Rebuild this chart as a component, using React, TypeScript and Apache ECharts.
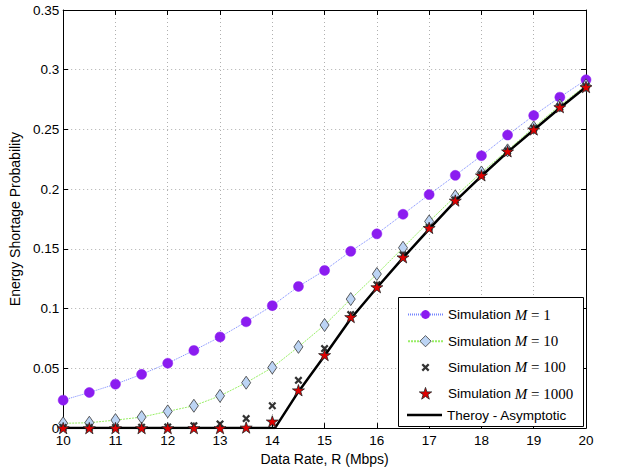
import React, { useEffect, useRef } from "react";
import * as echarts from "echarts";

const rates = [10, 10.5, 11, 11.5, 12, 12.5, 13, 13.5, 14, 14.5, 15, 15.5, 16, 16.5, 17, 17.5, 18, 18.5, 19, 19.5, 20];
const simM1 = [0.0234, 0.0298, 0.0368, 0.045, 0.0543, 0.065, 0.0763, 0.089, 0.1025, 0.1186, 0.132, 0.148, 0.1626, 0.179, 0.1955, 0.2116, 0.228, 0.2453, 0.2617, 0.277, 0.2916];
const simM10 = [0.004, 0.0045, 0.0067, 0.0092, 0.014, 0.0187, 0.027, 0.038, 0.0507, 0.068, 0.0863, 0.108, 0.129, 0.151, 0.173, 0.194, 0.214, 0.2325, 0.2517, 0.27, 0.287];
const simM100 = [0.0005, 0.0005, 0.0005, 0.0007, 0.001, 0.002, 0.0035, 0.008, 0.0187, 0.04, 0.0666, 0.095, 0.12, 0.145, 0.168, 0.191, 0.212, 0.232, 0.251, 0.269, 0.286];
const simM1000 = [0, 0, 0, 0, 0, 0, 0, 0.0005, 0.0056, 0.0317, 0.0612, 0.093, 0.118, 0.143, 0.1676, 0.1905, 0.2116, 0.2317, 0.25, 0.2687, 0.2855];
const theoryRates = [10, 14.05, 14.5, 15, 15.5, 16, 16.5, 17, 17.5, 18, 18.5, 19, 19.5, 20];
const theoryValues = [0, 0, 0.0305, 0.0605, 0.0915, 0.1175, 0.1425, 0.1665, 0.19, 0.211, 0.231, 0.2495, 0.268, 0.2855];

const seriesNames = ["M1", "M10", "M100", "M1000", "Theory"];
const legendLabels: Record<string, string> = {
  M1: "{t|Simulation }{m|M}{e| = 1}",
  M10: "{t|Simulation }{m|M}{e| = 10}",
  M100: "{t|Simulation }{m|M}{e| = 100}",
  M1000: "{t|Simulation }{m|M}{e| = 1000}",
  Theory: "{t|Theroy - Asymptotic}",
};

const SANS = "'Liberation Sans', Arial, Helvetica, sans-serif";
const SERIF = "'Liberation Serif', 'Times New Roman', serif";

const CROSS = "path://M2,0 L5,3 L8,0 L10,2 L7,5 L10,8 L8,10 L5,7 L2,10 L0,8 L3,5 L0,2 Z";
const STAR =
  "path://M50,0 L61.2,34.5 L97.6,34.5 L68.2,55.9 L79.4,90.5 L50,69.1 L20.6,90.5 L31.8,55.9 L2.4,34.5 L38.8,34.5 Z";
// legend icons padded (zero-length segments) to the 35x14 legend cell
const PAD14 = "M0,0 L0,0 M35,14 L35,14 ";
const CROSS_LEGEND =
  "path://" + PAD14 +
  "M15.1,3 L17.5,5.4 L19.9,3 L21.5,4.6 L19.1,7 L21.5,9.4 L19.9,11 L17.5,8.6 L15.1,11 L13.5,9.4 L15.9,7 L13.5,4.6 Z";
const STAR_LEGEND =
  "path://" + PAD14 +
  "M17.5,0.8 L18.96,5.29 L23.68,5.29 L19.86,8.07 L21.32,12.56 L17.5,9.78 L13.68,12.56 L15.14,8.07 L11.32,5.29 L16.04,5.29 Z";
const LINE_LEGEND = "path://" + PAD14 + "M0,5.8 L35,5.8 L35,8.2 L0,8.2 Z";

export default function App() {
  const ref = useRef<HTMLDivElement>(null);
  useEffect(() => {
    if (!ref.current) return;
    const chart = echarts.init(ref.current, undefined, { renderer: "svg" });
    const pair = (xs: number[], ys: number[]) => xs.map((x, i) => [x, ys[i]]);
    const axisCommon = {
      axisLine: { show: true, onZero: false, lineStyle: { color: "#000", width: 1 } },
      axisTick: { show: true, inside: true, length: 5, lineStyle: { color: "#000" } },
    };
    const rich = {
      t: { fontFamily: SANS, fontSize: 13.5, color: "#000", lineHeight: 14 },
      m: { fontFamily: SERIF, fontStyle: "italic", fontSize: 15, color: "#000", lineHeight: 14 },
      e: { fontFamily: SERIF, fontSize: 15, color: "#000", lineHeight: 14 },
    };
    const legendCommon = {
      orient: "vertical",
      left: 407,
      padding: 0,
      itemWidth: 35,
      itemHeight: 14,
      itemGap: 11.2,
      selectedMode: false,
      formatter: (name: string) => legendLabels[name],
      textStyle: { rich, padding: [0, 0, 0, 0] },
      itemStyle: { borderWidth: 0.8 },
      z: 11,
    };
    const gridLine = { show: true, lineStyle: { color: "#b0b0b0", type: [1, 3], width: 1 } };
    chart.setOption({
      animation: false,
      backgroundColor: "#fff",
      grid: { left: 54, right: 37, top: 10, bottom: 42, containLabel: false },
      graphic: [
        {
          type: "rect",
          left: 398,
          top: 297,
          z: 10,
          shape: { width: 185, height: 129 },
          style: { fill: "#fff", stroke: "#000", lineWidth: 1 },
        },
      ],
      xAxis: [
        {
          type: "value",
          min: 10,
          max: 20,
          interval: 1,
          ...axisCommon,
          axisLabel: { color: "#000", fontSize: 13.5, fontFamily: SANS, margin: 5 },
          splitLine: gridLine,
          name: "Data Rate, R (Mbps)",
          nameLocation: "middle",
          nameGap: 21,
          nameTextStyle: { color: "#000", fontSize: 14, fontFamily: SANS },
        },
        {
          type: "value",
          position: "top",
          min: 10,
          max: 20,
          interval: 1,
          ...axisCommon,
          axisLabel: { show: false },
          splitLine: { show: false },
        },
      ],
      yAxis: [
        {
          type: "value",
          min: 0,
          max: 0.35,
          interval: 0.05,
          ...axisCommon,
          axisLabel: { color: "#000", fontSize: 13.5, fontFamily: SANS, margin: 4 },
          splitLine: gridLine,
          name: "Energy Shortage Probability",
          nameLocation: "middle",
          nameGap: 36,
          nameRotate: 90,
          nameTextStyle: { color: "#000", fontSize: 14, fontFamily: SANS },
        },
        {
          type: "value",
          position: "right",
          min: 0,
          max: 0.35,
          interval: 0.05,
          ...axisCommon,
          axisLabel: { show: false },
          splitLine: { show: false },
        },
      ],
      legend: [
        {
          ...legendCommon,
          top: 307,
          itemHeight: 11,
          data: [{ name: "M1", itemStyle: { borderWidth: 0 } }],
        },
        {
          ...legendCommon,
          top: 333.7,
          data: [
            { name: "M10" },
            { name: "M100", icon: CROSS_LEGEND, itemStyle: { borderWidth: 0 } },
            { name: "M1000", icon: STAR_LEGEND },
          ],
        },
        {
          ...legendCommon,
          top: 408,
          data: [{ name: "Theory", icon: LINE_LEGEND, itemStyle: { borderWidth: 0 } }],
        },
      ],
      series: [
        {
          name: seriesNames[0],
          type: "line",
          data: pair(rates, simM1),
          symbol: "circle",
          symbolSize: 10,
          lineStyle: { color: "#7585ff", width: 1, type: [1, 1] },
          itemStyle: { color: "#8b1cf0", borderColor: "#8b1cf0", borderWidth: 0.5 },
          z: 2,
        },
        {
          name: seriesNames[1],
          type: "line",
          data: pair(rates, simM10),
          symbol: "diamond",
          symbolSize: [9, 13],
          lineStyle: { color: "#99ee66", width: 1, type: [2, 1] },
          itemStyle: { color: "#bcd4f4", borderColor: "#3a3a3a", borderWidth: 0.8 },
          z: 3,
        },
        {
          name: seriesNames[2],
          type: "scatter",
          data: pair(rates, simM100),
          symbol: CROSS,
          symbolSize: 8,
          symbolKeepAspect: true,
          itemStyle: { color: "#333", opacity: 1 },
          z: 4,
        },
        {
          name: seriesNames[3],
          type: "scatter",
          data: pair(rates, simM1000),
          symbol: STAR,
          symbolSize: 12,
          symbolKeepAspect: true,
          itemStyle: { color: "#e00000", borderColor: "#222", borderWidth: 0.8, opacity: 1 },
          z: 6,
        },
        {
          name: seriesNames[4],
          type: "line",
          data: pair(theoryRates, theoryValues),
          symbol: "none",
          showSymbol: false,
          lineStyle: { color: "#000", width: 2.5 },
          itemStyle: { color: "#000" },
          z: 5,
        },
      ],
    });
    return () => chart.dispose();
  }, []);
  return (
    <div
      ref={ref}
      style={{ position: "absolute", left: 0, top: 0, width: 623, height: 471 }}
    />
  );
}
